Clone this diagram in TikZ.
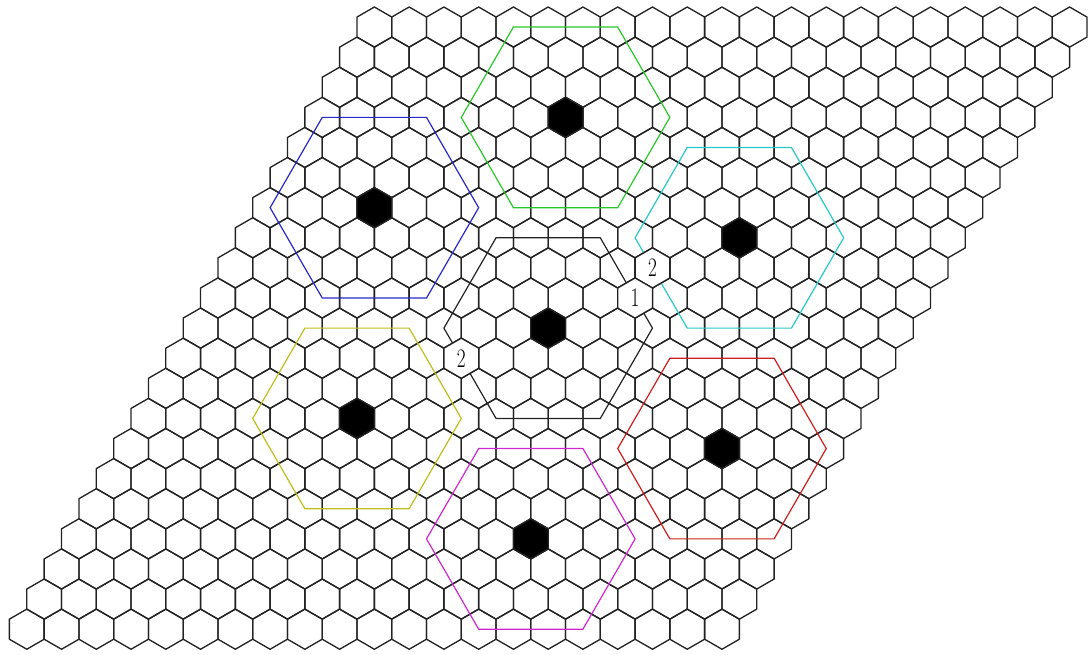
\documentclass[tikz,border=0pt]{standalone}
\usepackage{graphicx}
\definecolor{cgreen}{RGB}{40,200,40}
\definecolor{cblue}{RGB}{40,40,200}
\definecolor{ccyan}{RGB}{40,200,200}
\definecolor{cyellow}{RGB}{190,190,30}
\definecolor{cred}{RGB}{205,30,30}
\definecolor{cmag}{RGB}{205,40,205}
\definecolor{cblack}{RGB}{35,35,35}
\newcommand\hexcell[2]{%
  (#1,#2) ++(30:20.07) -- ++(150:20.07) -- ++(210:20.07) -- ++(270:20.07) -- ++(330:20.07) -- ++(30:20.07) -- cycle}
\begin{document}
\begin{tikzpicture}[x=0.75pt,y=-0.75pt,
  cell/.style={draw=cblack,line width=1pt,line join=round},
  cluster/.style={line width=0.9pt,line join=miter},
  digit/.style={inner sep=0pt,font=\fontsize{20}{20}\selectfont}]
\useasboundingbox (0,0) rectangle (1088,654);
% hexagon grid 21 x 21
\foreach \r in {0,...,20}{
  \foreach \c in {0,...,20}{
    \pgfmathsetmacro\cx{374.38+\c*34.76-\r*17.38}
    \pgfmathsetmacro\cy{27.07+\r*30.105}
    \draw[cell] \hexcell{\cx}{\cy};
  }}
% clusters: centre row, centre column, colour
\foreach \r/\c/\col in {10/10/cblack,3/7/cgreen,6/3/cblue,7/14/ccyan,13/6/cyellow,14/17/cred,17/13/cmag}{
  \pgfmathsetmacro\cx{374.38+\c*34.76-\r*17.38}
  \pgfmathsetmacro\cy{27.07+\r*30.105}
  \filldraw[cell,fill=black] \hexcell{\cx}{\cy};
  \draw[cluster,draw=\col,shift={(\cx,\cy)}] (0:104.28) -- (60:104.28) -- (120:104.28) -- (180:104.28) -- (240:104.28) -- (300:104.28) -- cycle;
}
% labelled cells
\foreach \r/\c/\t/\n in {8/12/2/labA,9/12/1/labB,11/8/2/labC}{
  \pgfmathsetmacro\cx{374.38+\c*34.76-\r*17.38}
  \pgfmathsetmacro\cy{27.07+\r*30.105}
  \filldraw[cell,fill=white] \hexcell{\cx}{\cy};
  \node[digit] (\n) at (\cx,\cy) {\scalebox{0.72}[1]{\t}};
}
\end{tikzpicture}
\end{document}
